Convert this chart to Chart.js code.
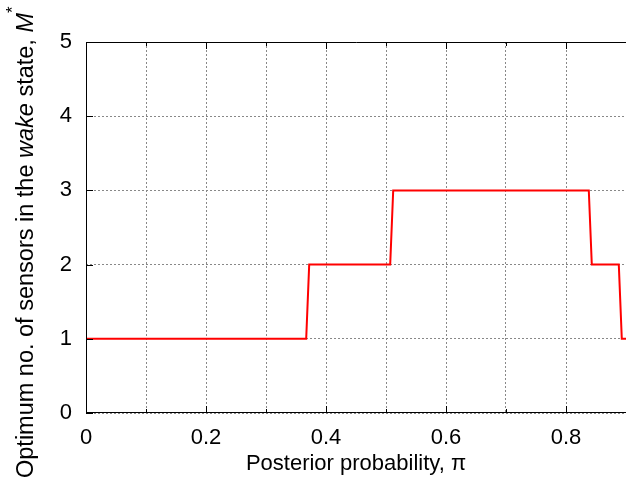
<!DOCTYPE html>
<html>
<head>
<meta charset="utf-8">
<script src="https://cdn.jsdelivr.net/npm/chart.js@4"></script>
<style>
html, body { margin: 0; padding: 0; background: #fff; }
</style>
</head>
<body>
<canvas id="chart" width="626" height="487"></canvas>
<script>
// step curve
var posteriorPi = [0, 0.367, 0.372, 0.507, 0.512, 0.838, 0.843, 0.888, 0.893, 0.9];
var optimumM = [1, 1, 2, 2, 3, 3, 2, 2, 1, 1];
var xLabels = [0, 0.2, 0.4, 0.6, 0.8];
var yLabels = [0, 1, 2, 3, 4, 5];

var FONT = "'Liberation Sans', Arial, sans-serif";

var points = posteriorPi.map(function (x, i) { return { x: x, y: optimumM[i] }; });

var framePlugin = {
    id: 'frame',
    afterDraw: function (chart) {
        var ctx = chart.ctx;
        var a = chart.chartArea;
        var xs = chart.scales.x;
        var ys = chart.scales.y;
        ctx.save();
        ctx.strokeStyle = '#000';
        ctx.lineWidth = 1;
        ctx.beginPath();
        ctx.moveTo(a.left + 0.5, a.top + 0.5);
        ctx.lineTo(a.left + 0.5, a.bottom - 0.5);
        ctx.lineTo(a.right, a.bottom - 0.5);
        ctx.moveTo(a.left + 0.5, a.top + 0.5);
        ctx.lineTo(a.right, a.top + 0.5);
        // inward ticks
        for (var i = 0; i <= 9; i++) {
            var px = Math.round(xs.getPixelForValue(i / 10)) + 0.5;
            var len = (i % 2 === 0) ? 7 : 4;
            ctx.moveTo(px, a.bottom);
            ctx.lineTo(px, a.bottom - len);
            ctx.moveTo(px, a.top);
            ctx.lineTo(px, a.top + len);
        }
        yLabels.forEach(function (v) {
            var py = Math.round(ys.getPixelForValue(v)) + 0.5;
            ctx.moveTo(a.left, py);
            ctx.lineTo(a.left + 7, py);
        });
        ctx.stroke();

        // x title
        ctx.fillStyle = '#000';
        ctx.font = '22px ' + FONT;
        ctx.textAlign = 'center';
        ctx.textBaseline = 'alphabetic';
        ctx.fillText('Posterior probability, \u03c0', (a.left + a.right) / 2, 470);

        // y title, mixed styles
        var parts = [
            { t: 'Optimum no. of sensors in the ', f: '23.5px ' + FONT, dy: 0 },
            { t: 'wake', f: 'italic 23.5px ' + FONT, dy: 0 },
            { t: ' state, ', f: '23.5px ' + FONT, dy: 0 },
            { t: 'M', f: 'italic 23.5px ' + FONT, dy: 0 },
            { t: '*', f: '17px ' + FONT, dy: -15 }
        ];
        ctx.translate(33, 478);
        ctx.rotate(-Math.PI / 2);
        ctx.textAlign = 'left';
        var cx = 0;
        parts.forEach(function (p) {
            ctx.font = p.f;
            ctx.fillText(p.t, cx, p.dy);
            cx += ctx.measureText(p.t).width;
        });
        ctx.restore();
    }
};

var c = document.getElementById('chart');
var ctx = c.getContext('2d');
var myChart = new Chart(ctx, {
    type: 'line',
    data: {
        datasets: [{
            label: 'M*',
            data: points,
            borderColor: '#ff0000',
            borderWidth: 2,
            pointRadius: 0,
            tension: 0,
            fill: false
        }]
    },
    options: {
        responsive: false,
        animation: false,
        devicePixelRatio: 1,
        layout: { padding: { top: 42, right: 0, left: 0, bottom: 0 } },
        plugins: {
            legend: { display: false },
            tooltip: { enabled: false }
        },
        scales: {
            x: {
                type: 'linear',
                min: 0,
                max: 0.9,
                afterFit: function (s) {
                    s.height = 74;
                    s.paddingLeft = 0;
                    s.paddingRight = 0;
                },
                afterBuildTicks: function (s) {
                    s.ticks = [];
                    for (var i = 0; i <= 9; i++) s.ticks.push({ value: i / 10 });
                },
                ticks: {
                    maxRotation: 0,
                    autoSkip: false,
                    padding: 12,
                    color: '#000',
                    font: { family: FONT, size: 22 },
                    callback: function (v) {
                        var r = Math.round(v * 10) / 10;
                        return xLabels.indexOf(r) >= 0 ? String(r) : '';
                    }
                },
                grid: { color: '#888', drawTicks: false, lineWidth: 1 },
                border: { display: false, dash: [2, 2] }
            },
            y: {
                min: 0,
                max: 5,
                afterFit: function (s) {
                    s.width = 86;
                    s.paddingTop = 0;
                    s.paddingBottom = 0;
                },
                ticks: {
                    stepSize: 1,
                    padding: 14,
                    color: '#000',
                    font: { family: FONT, size: 22 }
                },
                grid: { color: '#888', drawTicks: false, lineWidth: 1 },
                border: { display: false, dash: [2, 2] }
            }
        }
    },
    plugins: [framePlugin]
});
</script>
</body>
</html>
